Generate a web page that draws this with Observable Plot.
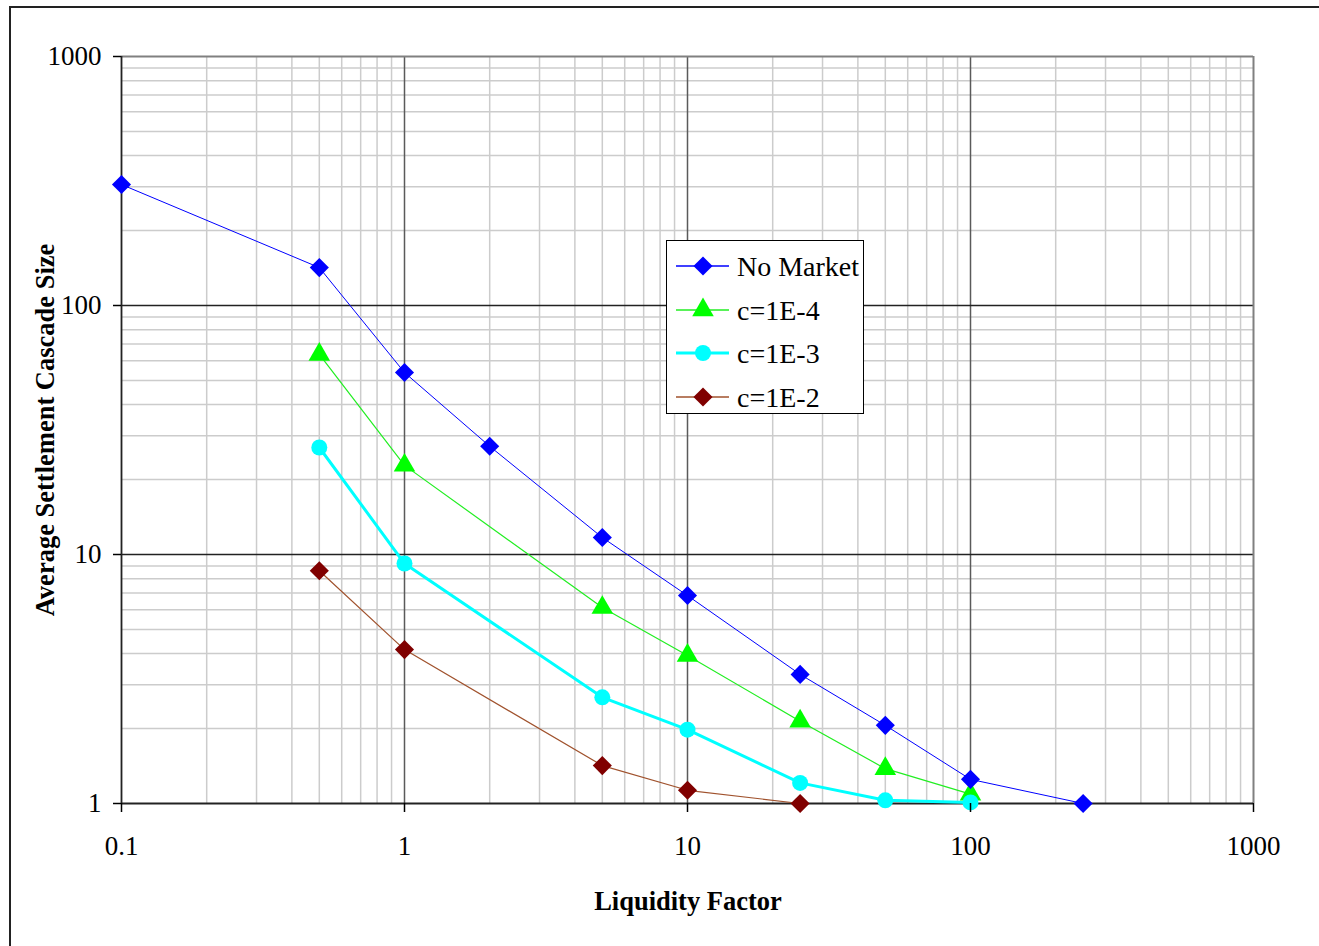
<!DOCTYPE html>
<html><head><meta charset="utf-8">
<script src="https://cdn.jsdelivr.net/npm/d3@7"></script>
<script src="https://cdn.jsdelivr.net/npm/@observablehq/plot@0.6"></script>
<style>
body{margin:0;background:#fff;}
#wrap{position:relative;width:1319px;height:946px;overflow:hidden;font-family:'Liberation Serif','Times New Roman',serif;}
#frame{position:absolute;left:9px;top:6px;width:1330px;height:960px;border:2px solid #222;box-sizing:border-box;}
#chart{position:absolute;left:0;top:0;}
#legend{position:absolute;left:666px;top:240px;width:198px;height:174px;border:1.5px solid #000;background:#fff;box-sizing:border-box;}
#legend text{font-family:'Liberation Serif','Times New Roman',serif;}
.title{position:absolute;font-weight:bold;font-size:26.5px;color:#000;white-space:nowrap;font-family:'Liberation Serif','Times New Roman',serif;}
#xtitle{left:688px;top:901px;transform:translate(-50%,-50%);}
#ytitle{left:45px;top:430px;transform:translate(-50%,-50%) rotate(-90deg);}
</style></head><body>
<div id="wrap"><div id="frame"></div><div id="chart"></div>
<div class="title" id="xtitle">Liquidity Factor</div>
<div class="title" id="ytitle">Average Settlement Cascade Size</div>
<div id="legend"></div></div>
<script>
// Data
const seriesNames = ["No Market", "c=1E-4", "c=1E-3", "c=1E-2"];
const noMarketX = [0.1, 0.5, 1, 2, 5, 10, 25, 50, 100, 250];
const noMarketY = [306, 142, 53.8, 27.2, 11.7, 6.84, 3.30, 2.06, 1.25, 1.0];
const c4X = [0.5, 1, 5, 10, 25, 50, 100];
const c4Y = [63.6, 22.8, 6.12, 3.93, 2.14, 1.38, 1.09];
const c3X = [0.5, 1, 5, 10, 25, 50, 100];
const c3Y = [26.9, 9.2, 2.67, 1.98, 1.21, 1.03, 1.01];
const c2X = [0.5, 1, 5, 10, 25];
const c2Y = [8.6, 4.15, 1.42, 1.13, 1.0];
const xTicks = [0.1, 1, 10, 100, 1000];
const yTicks = [1, 10, 100, 1000];

const toRows = (xs, ys) => xs.map((x, i) => ({x, y: ys[i]}));
const styles = [
  {name: seriesNames[0], data: toRows(noMarketX, noMarketY), line: "#0000ff", lw: 1, fill: "#0000ff", symbol: "diamond2", r: 8.6},
  {name: seriesNames[1], data: toRows(c4X, c4Y), line: "#22ee22", lw: 1.2, fill: "#00ff00", symbol: "triangle", r: 8},
  {name: seriesNames[2], data: toRows(c3X, c3Y), line: "#00ffff", lw: 3, fill: "#00ffff", symbol: "circle", r: 8},
  {name: seriesNames[3], data: toRows(c2X, c2Y), line: "#a0522d", lw: 1.2, fill: "#800000", symbol: "diamond2", r: 8.6}
];

const minorX = [], minorY = [];
for (const d of [0.1, 1, 10, 100]) for (let k = 2; k <= 9; k++) minorX.push(+(k * d).toPrecision(3));
for (const d of [1, 10, 100]) for (let k = 2; k <= 9; k++) minorY.push(k * d);

const markerOrder = [3, 1, 2, 0];
const serif = "'Liberation Serif','Times New Roman',serif";

const chart = Plot.plot({
  width: 1319,
  height: 946,
  marginLeft: 121,
  marginRight: 66,
  marginTop: 56,
  marginBottom: 143,
  style: {fontFamily: serif, fontSize: "27px", color: "#000", background: "transparent"},
  x: {type: "log", domain: [0.1, 1000]},
  y: {type: "log", domain: [1, 1000]},
  marks: [
    Plot.ruleX(minorX, {stroke: "#cccccc", strokeWidth: 1.5}),
    Plot.ruleY(minorY, {stroke: "#cccccc", strokeWidth: 1.5}),
    Plot.ruleX([1, 10, 100], {stroke: "#5a5a5a", strokeWidth: 1.5}),
    Plot.ruleY([10, 100], {stroke: "#222", strokeWidth: 1.3}),
    Plot.ruleX([1000], {stroke: "#808080", strokeWidth: 2}),
    Plot.ruleY([1000], {stroke: "#808080", strokeWidth: 2}),
    Plot.ruleX([0.1], {stroke: "#222", strokeWidth: 1.8}),
    Plot.ruleY([1], {stroke: "#222", strokeWidth: 2}),
    ...styles.map(s => Plot.line(s.data, {x: "x", y: "y", stroke: s.line, strokeWidth: s.lw})),
    ...markerOrder.map(i => {
      const s = styles[i];
      return Plot.dot(s.data, {x: "x", y: "y", symbol: s.symbol, r: s.r, fill: s.fill, stroke: "none"});
    }),
    Plot.axisX({ticks: xTicks, tickFormat: d => String(d), tickSize: 9, tickPadding: 23, fontSize: 27, fontFamily: serif, label: null, strokeWidth: 1.5}),
    Plot.axisY({ticks: yTicks, tickFormat: d => String(d), tickSize: 8, tickPadding: 12, fontSize: 27, fontFamily: serif, label: null, strokeWidth: 1.5})
  ]
});
document.getElementById("chart").append(chart);

// Legend
const lg = d3.select("#legend").append("svg").attr("width", 196).attr("height", 172);
const symMap = {diamond2: d3.symbolDiamond2, triangle: d3.symbolTriangle, circle: d3.symbolCircle};
const rowY = [25, 69, 112, 156];
styles.forEach((s, i) => {
  const g = lg.append("g").attr("transform", `translate(0,${rowY[i]})`);
  g.append("line").attr("x1", 9).attr("x2", 62).attr("stroke", s.line).attr("stroke-width", Math.max(s.lw, 1.5));
  g.append("path").attr("transform", "translate(36,0)")
    .attr("d", d3.symbol(symMap[s.symbol], Math.PI * s.r * s.r)()).attr("fill", s.fill);
  g.append("text").attr("x", 70).attr("dy", "0.35em").attr("font-size", 28)
    .attr("font-family", serif).text(s.name);
});
</script>
</body></html>
